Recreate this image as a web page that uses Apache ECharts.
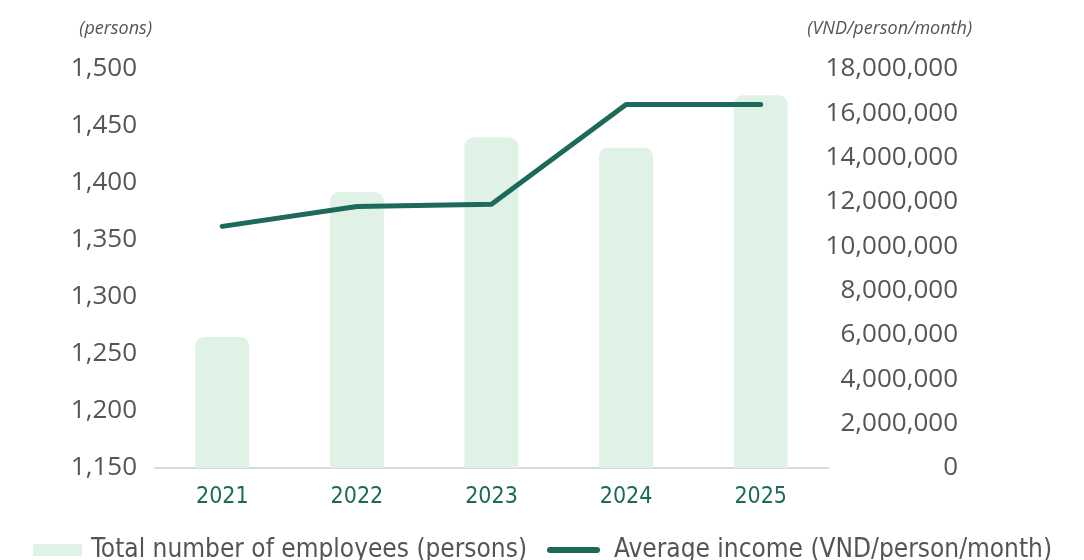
<!DOCTYPE html>
<html>
<head>
<meta charset="utf-8">
<script src="https://cdn.jsdelivr.net/npm/echarts@6/dist/echarts.min.js"></script>
<style>
  html, body { margin: 0; padding: 0; background: #ffffff; }
  #chart { width: 1084px; height: 560px; }
</style>
</head>
<body>
<div id="chart"></div>
<script>
// Workforce size and average monthly income, 2021–2025
const years = ['2021', '2022', '2023', '2024', '2025'];
const employees = [1265, 1392, 1440, 1431, 1477];
const avgIncome = [10900000, 11800000, 11900000, 16400000, 16400000];

const seriesNames = ['Total number of employees (persons)', 'Average income (VND/person/month)'];
const leftUnit = '(persons)';
const rightUnit = '(VND/person/month)';

const BAR_COLOR = '#e0f1e5';
const LINE_COLOR = '#1d6a5a';
const TEXT_GRAY = '#555555';
const NARROW = '"DejaVu Sans Condensed", "Liberation Sans Narrow", sans-serif';
const REGULAR = '"Open Sans", "Noto Sans", sans-serif';

const fmt = v => Number(v).toLocaleString('en-US');

const legendText = { fontFamily: NARROW, fontSize: 26, color: TEXT_GRAY };
// thick pill used as the legend key of the income line
const PILL = 'path://M3,0 L50,0 A3,3 0 0 1 50,6 L3,6 A3,3 0 0 1 3,0 Z';

const chart = echarts.init(document.getElementById('chart'), null, { renderer: 'canvas' });

chart.setOption({
  animation: false,
  backgroundColor: '#ffffff',
  grid: { left: 155, right: 256, top: 69, bottom: 92, containLabel: false },
  legend: [
    {
      left: 33,
      top: 537,
      padding: 0,
      itemWidth: 49,
      itemHeight: 12,
      textStyle: Object.assign({ padding: [0, 0, 0, 4] }, legendText),
      data: [{ name: seriesNames[0], icon: 'rect' }]
    },
    {
      left: 547,
      top: 537,
      padding: 0,
      itemWidth: 53,
      itemHeight: 6,
      textStyle: Object.assign({ padding: [0, 0, 0, 9] }, legendText),
      data: [{ name: seriesNames[1], icon: PILL, itemStyle: { color: LINE_COLOR } }]
    }
  ],
  xAxis: {
    type: 'category',
    data: years,
    axisLine: { show: true, lineStyle: { color: '#d9d9d9', width: 2 } },
    axisTick: { show: false },
    axisLabel: { fontFamily: NARROW, fontSize: 23, color: LINE_COLOR, margin: 18 }
  },
  yAxis: [
    {
      type: 'value',
      min: 1150,
      max: 1500,
      interval: 50,
      name: leftUnit,
      nameLocation: 'end',
      nameGap: 31,
      nameTextStyle: { fontFamily: REGULAR, fontStyle: 'italic', fontSize: 18, color: TEXT_GRAY, align: 'right', padding: [0, 3, 0, 0] },
      axisLine: { show: false },
      axisTick: { show: false },
      splitLine: { show: false },
      axisLabel: { fontFamily: REGULAR, fontSize: 26, color: TEXT_GRAY, margin: 18, formatter: fmt }
    },
    {
      type: 'value',
      min: 0,
      max: 18000000,
      interval: 2000000,
      name: rightUnit,
      nameLocation: 'end',
      nameGap: 31,
      nameTextStyle: { fontFamily: REGULAR, fontStyle: 'italic', fontSize: 18, color: TEXT_GRAY, align: 'right', padding: [0, -144, 0, 0] },
      axisLine: { show: false },
      axisTick: { show: false },
      splitLine: { show: false },
      axisLabel: { fontFamily: REGULAR, fontSize: 26, color: TEXT_GRAY, margin: 130, align: 'right', formatter: fmt }
    }
  ],
  series: [
    {
      name: seriesNames[0],
      type: 'bar',
      yAxisIndex: 0,
      data: employees,
      barWidth: 54,
      itemStyle: { color: BAR_COLOR, borderRadius: [9, 9, 0, 0] }
    },
    {
      name: seriesNames[1],
      type: 'line',
      yAxisIndex: 1,
      data: avgIncome,
      symbol: 'none',
      lineStyle: { color: LINE_COLOR, width: 5, cap: 'round', join: 'round' },
      itemStyle: { color: LINE_COLOR }
    }
  ]
});
</script>
</body>
</html>
